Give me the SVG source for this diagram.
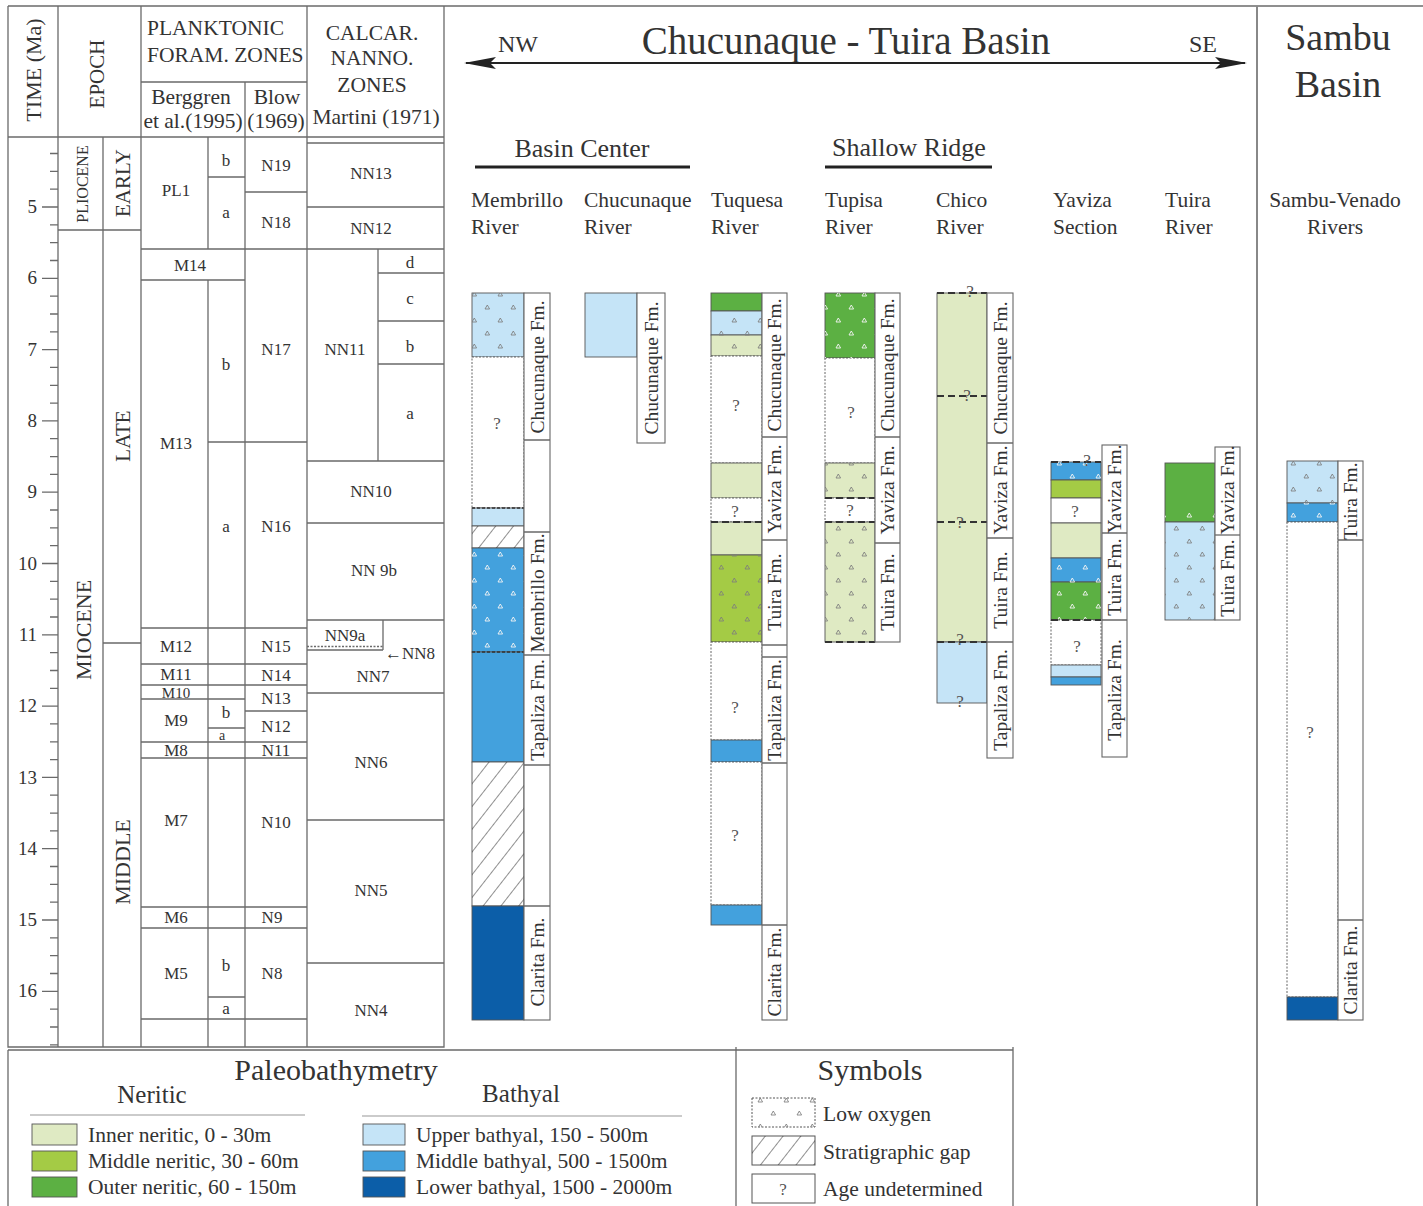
<svg xmlns="http://www.w3.org/2000/svg" width="1423" height="1206" viewBox="0 0 1423 1206">
<style>
.t{font-family:"Liberation Serif","Times New Roman",serif;fill:#333}
.m{text-anchor:middle}
.e{text-anchor:end}
.z{font-size:17px;text-anchor:middle}
.h{font-size:21.5px}
.ln{stroke:#6a6a6a;stroke-width:1.3;fill:none}
.sg{stroke:#555;stroke-width:0.9}
.in{fill:#dfeac3}.mn{fill:#a4cb45}.on{fill:#5cb043}.ub{fill:#c5e4f7}.mb{fill:#43a1dd}.lb{fill:#0c5ea8}.wh{fill:#fff}
.q{stroke-dasharray:2 1.5}
.dsh{stroke:#333;stroke-width:2;stroke-dasharray:7 4;fill:none}
.fm{font-size:19.5px;text-anchor:middle}
.qm{font-size:17px;text-anchor:middle;fill:#555}
.st{fill:#fff;stroke:#666;stroke-width:1.1}
.ct{font-size:21.5px}
</style>
<defs>
<pattern id="lo" width="26" height="26" patternUnits="userSpaceOnUse">
<path d="M4,10 l2.3,-4 l2.3,4z M17,23 l2.3,-4 l2.3,4z" fill="none" stroke="#7c7c7c" stroke-width="0.85"/>
</pattern>
<pattern id="low" width="26" height="26" patternUnits="userSpaceOnUse">
<path d="M4,10 l2.3,-4 l2.3,4z M17,23 l2.3,-4 l2.3,4z" fill="none" stroke="#f4f4f4" stroke-width="0.9"/>
</pattern>
<pattern id="hatch" width="14" height="14" patternUnits="userSpaceOnUse" patternTransform="rotate(38)">
<line x1="0" y1="0" x2="0" y2="14" stroke="#222" stroke-width="1"/>
</pattern>
<marker id="ah" viewBox="0 0 32 12" refX="30" refY="6" markerWidth="32" markerHeight="12" markerUnits="userSpaceOnUse" orient="auto-start-reverse">
<path d="M0,0 L32,6 L0,12 L6,6 Z" fill="#222"/>
</marker>
</defs>
<rect width="1423" height="1206" fill="#fff"/>

<!-- frame -->
<g id="frame" class="ln">
<path d="M8,6 H1423"/>
<path d="M8,6 V1047 H444 V6"/>
<path d="M1257,6 V1206" stroke="#888" stroke-width="2"/>
<path d="M8,1050 H1013 M8,1050 V1206 M736,1047 V1206 M1013,1047 V1206"/>
</g>

<!-- left time / zone chart -->
<g id="chart">
<g class="ln">
<path d="M8,137 H444"/>
<path d="M58,6 V1047 M103,137 V1047 M141,6 V1047 M307,6 V1047"/>
<path d="M141,82 H307 M245,82 V1047"/>
<path d="M58,230 H141 M103,643 H141"/>
<path d="M208,137 V249 M208,280 V1047 M208,177 H245"/>
<path d="M141,249 H307 M141,280 H245 M208,442 H307 M141,628 H307 M141,664 H307 M141,685 H307 M141,699 H245 M245,711 H307 M208,728 H245 M141,742 H307 M141,758 H307 M141,907 H307 M141,928 H307 M208,997 H245 M141,1019 H307 M245,192 H307"/>
<path d="M307,143 H444 M307,207 H444 M307,249 H444 M378,249 V461 M378,273 H444 M378,321 H444 M378,364 H444 M307,461 H444 M307,523 H444 M307,620 H444 M383,620 V650 M307,650 H383 M307,693 H444 M307,820 H444 M307,963 H444"/>
<path d="M307,646.5 H383" stroke-dasharray="2 1.5"/>
</g>
<path class="ln" d="M42,207h16M42,278.3h16M42,349.6h16M42,420.9h16M42,492.2h16M42,563.5h16M42,634.8h16M42,706.1h16M42,777.4h16M42,848.7h16M42,920h16M42,991.3h16M50,153.5h8M50,171.4h8M50,189.2h8M50,224.8h8M50,242.7h8M50,260.5h8M50,296.1h8M50,314h8M50,331.8h8M50,367.4h8M50,385.3h8M50,403.1h8M50,438.7h8M50,456.6h8M50,474.4h8M50,510h8M50,527.9h8M50,545.7h8M50,581.3h8M50,599.2h8M50,617h8M50,652.6h8M50,670.5h8M50,688.3h8M50,723.9h8M50,741.8h8M50,759.6h8M50,795.2h8M50,813.1h8M50,830.9h8M50,866.5h8M50,884.4h8M50,902.2h8M50,937.8h8M50,955.7h8M50,973.5h8M50,1009.1h8M50,1027h8M50,1044.8h8"/>
<g class="t e" font-size="19">
<text x="37" y="213">5</text><text x="37" y="284">6</text><text x="37" y="356">7</text><text x="37" y="427">8</text><text x="37" y="498">9</text><text x="37" y="570">10</text><text x="37" y="641">11</text><text x="37" y="712">12</text><text x="37" y="784">13</text><text x="37" y="855">14</text><text x="37" y="926">15</text><text x="37" y="997">16</text>
</g>
<g class="t m">
<text font-size="22" transform="translate(41,70) rotate(-90)">TIME (Ma)</text>
<text font-size="21" transform="translate(104,74) rotate(-90)">EPOCH</text>
<text font-size="16" transform="translate(88,184) rotate(-90)">PLIOCENE</text>
<text font-size="21" transform="translate(130,183) rotate(-90)">EARLY</text>
<text font-size="21" transform="translate(130,436) rotate(-90)">LATE</text>
<text font-size="22" transform="translate(91,630) rotate(-90)">MIOCENE</text>
<text font-size="22" transform="translate(130,862) rotate(-90)">MIDDLE</text>
</g>
<g class="t h">
<text x="147" y="35">PLANKTONIC</text>
<text x="147" y="62">FORAM. ZONES</text>
<text x="191" y="104" class="m">Berggren</text>
<text x="193" y="128" class="m">et al.(1995)</text>
<text x="277" y="104" class="m">Blow</text>
<text x="276" y="128" class="m">(1969)</text>
<text x="372" y="40" class="m">CALCAR.</text>
<text x="372" y="65" class="m">NANNO.</text>
<text x="372" y="92" class="m">ZONES</text>
<text x="376" y="124" class="m">Martini (1971)</text>
</g>
<g class="t z">
<text x="176" y="196">PL1</text><text x="226" y="166">b</text><text x="226" y="218">a</text>
<text x="190" y="271">M14</text><text x="226" y="370">b</text><text x="176" y="449">M13</text><text x="226" y="532">a</text>
<text x="176" y="652">M12</text><text x="176" y="680">M11</text><text x="176" y="698" font-size="15">M10</text>
<text x="176" y="726">M9</text><text x="226" y="718">b</text><text x="222" y="740" font-size="14">a</text><text x="176" y="756">M8</text>
<text x="176" y="826">M7</text><text x="176" y="923">M6</text><text x="176" y="979">M5</text><text x="226" y="971">b</text><text x="226" y="1014">a</text>
<text x="276" y="171">N19</text><text x="276" y="228">N18</text><text x="276" y="355">N17</text><text x="276" y="532">N16</text>
<text x="276" y="652">N15</text><text x="276" y="681">N14</text><text x="276" y="704">N13</text><text x="276" y="732">N12</text><text x="276" y="756">N11</text>
<text x="276" y="828">N10</text><text x="272" y="923">N9</text><text x="272" y="979">N8</text>
<text x="371" y="179">NN13</text><text x="371" y="234">NN12</text><text x="345" y="355">NN11</text>
<text x="410" y="268">d</text><text x="410" y="304">c</text><text x="410" y="352">b</text><text x="410" y="419">a</text>
<text x="371" y="497">NN10</text><text x="374" y="576">NN 9b</text><text x="345" y="641">NN9a</text>
<text x="410" y="659">←NN8</text><text x="373" y="682">NN7</text><text x="371" y="768">NN6</text><text x="371" y="896">NN5</text><text x="371" y="1016">NN4</text>
</g>
</g>

<!-- titles -->
<g id="titles" class="t">
<text x="518" y="52" font-size="24" class="m">NW</text>
<text x="1203" y="52" font-size="24" class="m">SE</text>
<text x="846" y="54" font-size="39" class="m">Chucunaque - Tuira Basin</text>
<text x="1338" y="50" font-size="38" class="m">Sambu</text>
<text x="1338" y="97" font-size="38" class="m">Basin</text>
<text x="582" y="157" font-size="26" class="m">Basin Center</text>
<text x="909" y="156" font-size="26" class="m">Shallow Ridge</text>
<g class="ct">
<text x="471" y="207">Membrillo</text><text x="471" y="234">River</text>
<text x="584" y="207">Chucunaque</text><text x="584" y="234">River</text>
<text x="711" y="207">Tuquesa</text><text x="711" y="234">River</text>
<text x="825" y="207">Tupisa</text><text x="825" y="234">River</text>
<text x="936" y="207">Chico</text><text x="936" y="234">River</text>
<text x="1053" y="207">Yaviza</text><text x="1053" y="234">Section</text>
<text x="1165" y="207">Tuira</text><text x="1165" y="234">River</text>
<text x="1335" y="207" class="m">Sambu-Venado</text><text x="1335" y="234" class="m">Rivers</text>
</g>
</g>

<!-- connectors -->
<g id="connectors">
<line x1="466" y1="63" x2="1245" y2="63" stroke="#222" stroke-width="2" marker-start="url(#ah)" marker-end="url(#ah)"/>
<line x1="475" y1="167" x2="690" y2="167" stroke="#222" stroke-width="3"/>
<line x1="825" y1="167" x2="992" y2="167" stroke="#222" stroke-width="3"/>
</g>

<!-- Membrillo -->
<g id="col-membrillo">
<g class="sg">
<rect class="ub" x="472" y="293" width="52" height="64"/>
<rect class="wh q" x="472" y="357" width="52" height="151"/>
<rect class="ub" x="472" y="508" width="52" height="18"/>
<rect fill="#fff" x="472" y="526" width="52" height="22"/>
<rect class="mb" x="472" y="548" width="52" height="104"/>
<rect class="mb" x="472" y="652" width="52" height="110"/>
<rect fill="#fff" x="472" y="762" width="52" height="144"/>
<rect class="lb" x="472" y="906" width="52" height="114"/>
</g>
<rect x="472" y="293" width="52" height="64" fill="url(#lo)"/>
<rect x="472" y="526" width="52" height="22" fill="url(#hatch)"/>
<rect x="472" y="548" width="52" height="104" fill="url(#low)"/>
<rect x="472" y="762" width="52" height="144" fill="url(#hatch)"/>
<path d="M472,508H524 M472,652H524" stroke="#333" stroke-width="1.3" stroke-dasharray="3 2"/>
<text class="t qm" x="497" y="429">?</text>
<rect class="st" x="524" y="293" width="26" height="727"/>
<path class="ln" d="M524,440H550 M524,532H550 M524,655H550 M524,765H550 M524,906H550"/>
<g class="t fm">
<text transform="translate(544,367) rotate(-90)">Chucunaque Fm.</text>
<text transform="translate(544,593) rotate(-90)">Membrillo Fm.</text>
<text transform="translate(544,710) rotate(-90)">Tapaliza Fm.</text>
<text transform="translate(544,962) rotate(-90)">Clarita Fm.</text>
</g>
</g>

<!-- Chucunaque River -->
<g id="col-chucunaque">
<rect class="ub sg" x="585" y="293" width="52" height="64"/>
<rect class="st" x="637" y="293" width="28" height="150"/>
<text class="t fm" transform="translate(658,368) rotate(-90)">Chucunaque Fm.</text>
</g>

<!-- Tuquesa -->
<g id="col-tuquesa">
<g class="sg">
<rect class="on" x="711" y="293" width="51" height="18"/>
<rect class="ub" x="711" y="311" width="51" height="24"/>
<rect class="in" x="711" y="335" width="51" height="21"/>
<rect class="wh q" x="711" y="356" width="51" height="107"/>
<rect class="in" x="711" y="463" width="51" height="35"/>
<rect class="wh q" x="711" y="498" width="51" height="24"/>
<rect class="in" x="711" y="522" width="51" height="33"/>
<rect class="mn" x="711" y="555" width="51" height="87"/>
<rect class="wh q" x="711" y="642" width="51" height="98"/>
<rect class="mb" x="711" y="740" width="51" height="22"/>
<rect class="wh q" x="711" y="762" width="51" height="143"/>
<rect class="mb" x="711" y="905" width="51" height="20"/>
</g>
<rect x="711" y="311" width="51" height="45" fill="url(#lo)"/>
<rect x="711" y="555" width="51" height="87" fill="url(#lo)"/>
<path class="dsh" d="M711,522H762"/>
<g class="t qm"><text x="736" y="411">?</text><text x="735" y="517">?</text><text x="735" y="713">?</text><text x="735" y="841">?</text></g>
<rect class="st" x="762" y="293" width="25" height="727"/>
<path class="ln" d="M762,437H787 M762,540H787 M762,645H787 M762,657H787 M762,763H787 M762,925H787"/>
<g class="t fm">
<text transform="translate(781,365) rotate(-90)">Chucunaque Fm.</text>
<text transform="translate(781,489) rotate(-90)">Yaviza Fm.</text>
<text transform="translate(781,592) rotate(-90)">Tuira Fm.</text>
<text transform="translate(781,710) rotate(-90)">Tapaliza Fm.</text>
<text transform="translate(781,972) rotate(-90)">Clarita Fm.</text>
</g>
</g>

<!-- Tupisa -->
<g id="col-tupisa">
<g class="sg">
<rect class="on" x="825" y="293" width="50" height="65"/>
<rect class="wh q" x="825" y="358" width="50" height="105"/>
<rect class="in" x="825" y="463" width="50" height="35"/>
<rect class="wh q" x="825" y="498" width="50" height="24"/>
<rect class="in" x="825" y="522" width="50" height="120"/>
</g>
<rect x="825" y="293" width="50" height="65" fill="url(#low)"/>
<rect x="825" y="463" width="50" height="35" fill="url(#lo)"/>
<rect x="825" y="522" width="50" height="120" fill="url(#lo)"/>
<path class="dsh" d="M825,498H875 M825,522H875 M825,642H875"/>
<g class="t qm"><text x="851" y="418">?</text><text x="850" y="516">?</text></g>
<rect class="st" x="875" y="293" width="25" height="349"/>
<path class="ln" d="M875,437H900 M875,543H900"/>
<g class="t fm">
<text transform="translate(894,365) rotate(-90)">Chucunaque Fm.</text>
<text transform="translate(894,490) rotate(-90)">Yaviza Fm.</text>
<text transform="translate(894,592) rotate(-90)">Tuira Fm.</text>
</g>
</g>

<!-- Chico -->
<g id="col-chico">
<g class="sg">
<rect class="in" x="937" y="293" width="50" height="349"/>
<rect class="ub" x="937" y="642" width="50" height="61"/>
</g>
<path class="dsh" d="M937,293H987 M937,396H987 M937,522H987 M937,642H987"/>
<g class="t qm"><text x="970" y="297">?</text><text x="967" y="401">?</text><text x="960" y="528">?</text><text x="960" y="645">?</text><text x="960" y="707">?</text></g>
<rect class="st" x="987" y="293" width="26" height="465"/>
<path class="ln" d="M987,443H1013 M987,538H1013 M987,642H1013"/>
<g class="t fm">
<text transform="translate(1007,368) rotate(-90)">Chucunaque Fm.</text>
<text transform="translate(1007,490) rotate(-90)">Yaviza Fm.</text>
<text transform="translate(1007,590) rotate(-90)">Tuira Fm.</text>
<text transform="translate(1007,700) rotate(-90)">Tapaliza Fm.</text>
</g>
</g>

<!-- Yaviza -->
<g id="col-yaviza">
<g class="sg">
<rect class="mb" x="1051" y="462" width="50" height="18"/>
<rect class="mn" x="1051" y="480" width="50" height="18"/>
<rect class="wh" x="1051" y="498" width="50" height="25"/>
<rect class="in" x="1051" y="523" width="50" height="35"/>
<rect class="mb" x="1051" y="558" width="50" height="24"/>
<rect class="on" x="1051" y="582" width="50" height="38"/>
<rect class="wh q" x="1051" y="620" width="50" height="45"/>
<rect class="ub" x="1051" y="665" width="50" height="12"/>
<rect class="mb" x="1051" y="677" width="50" height="8"/>
</g>
<rect x="1051" y="462" width="50" height="18" fill="url(#low)"/>
<rect x="1051" y="558" width="50" height="62" fill="url(#low)"/>
<path class="dsh" d="M1051,462H1101 M1051,620H1101"/>
<g class="t qm"><text x="1087" y="466">?</text><text x="1075" y="517">?</text><text x="1077" y="652">?</text></g>
<rect class="st" x="1102" y="445" width="25" height="312"/>
<path class="ln" d="M1102,533H1127 M1102,620H1127"/>
<g class="t fm">
<text transform="translate(1121,489) rotate(-90)">Yaviza Fm.</text>
<text transform="translate(1121,577) rotate(-90)">Tuira Fm.</text>
<text transform="translate(1121,690) rotate(-90)">Tapaliza Fm.</text>
</g>
</g>

<!-- Tuira -->
<g id="col-tuira">
<g class="sg">
<rect class="on" x="1165" y="463" width="50" height="59"/>
<rect class="ub" x="1165" y="522" width="50" height="98"/>
</g>
<rect x="1165" y="505" width="50" height="17" fill="url(#low)"/>
<rect x="1165" y="522" width="50" height="98" fill="url(#lo)"/>
<rect class="st" x="1215" y="447" width="25" height="173"/>
<path class="ln" d="M1215,535H1240"/>
<g class="t fm">
<text transform="translate(1234,490) rotate(-90)">Yaviza Fm.</text>
<text transform="translate(1234,578) rotate(-90)">Tuira Fm.</text>
</g>
</g>

<!-- Sambu -->
<g id="col-sambu">
<g class="sg">
<rect class="ub" x="1287" y="461" width="51" height="42"/>
<rect class="mb" x="1287" y="503" width="51" height="19"/>
<rect class="wh q" x="1287" y="522" width="51" height="475"/>
<rect class="lb" x="1287" y="997" width="51" height="23"/>
</g>
<rect x="1287" y="461" width="51" height="42" fill="url(#lo)"/>
<rect x="1287" y="503" width="51" height="19" fill="url(#low)"/>
<text class="t qm" x="1310" y="738">?</text>
<rect class="st" x="1338" y="461" width="25" height="559"/>
<path class="ln" d="M1338,540H1363 M1338,920H1363"/>
<g class="t fm">
<text transform="translate(1357,501) rotate(-90)">Tuira Fm.</text>
<text transform="translate(1357,970) rotate(-90)">Clarita Fm.</text>
</g>
</g>

<!-- legend: paleobathymetry -->
<g id="legend-paleobathymetry">
<text class="t m" x="336" y="1080" font-size="30">Paleobathymetry</text>
<text class="t m" x="152" y="1103" font-size="25">Neritic</text>
<text class="t m" x="521" y="1102" font-size="25">Bathyal</text>
<path d="M30,1115H305 M362,1116H682" stroke="#bbb" stroke-width="1.5"/>
<g class="sg">
<rect class="in" x="32" y="1124" width="45" height="21"/>
<rect class="mn" x="32" y="1151" width="45" height="20"/>
<rect class="on" x="32" y="1177" width="45" height="20"/>
<rect class="ub" x="363" y="1124" width="42" height="21"/>
<rect class="mb" x="363" y="1151" width="42" height="20"/>
<rect class="lb" x="363" y="1177" width="42" height="20"/>
</g>
<g class="t" font-size="21.5">
<text x="88" y="1142">Inner neritic, 0 - 30m</text>
<text x="88" y="1168">Middle neritic, 30 - 60m</text>
<text x="88" y="1194">Outer neritic, 60 - 150m</text>
<text x="416" y="1142">Upper bathyal, 150 - 500m</text>
<text x="416" y="1168">Middle bathyal, 500 - 1500m</text>
<text x="416" y="1194">Lower bathyal, 1500 - 2000m</text>
</g>
</g>

<!-- legend: symbols -->
<g id="legend-symbols">
<text class="t m" x="870" y="1080" font-size="30">Symbols</text>
<rect x="752" y="1098" width="63" height="29" fill="#fff" stroke="#555" stroke-width="1" stroke-dasharray="2 1.5"/>
<rect x="752" y="1098" width="63" height="29" fill="url(#lo)"/>
<rect x="752" y="1136" width="63" height="29" fill="#fff" stroke="#555" stroke-width="1"/>
<rect x="752" y="1136" width="63" height="29" fill="url(#hatch)"/>
<rect x="752" y="1174" width="63" height="29" fill="#fff" stroke="#555" stroke-width="1"/>
<text class="t qm" x="783" y="1195">?</text>
<g class="t" font-size="21.5">
<text x="823" y="1121">Low oxygen</text>
<text x="823" y="1159">Stratigraphic gap</text>
<text x="823" y="1196">Age undetermined</text>
</g>
</g>
</svg>
